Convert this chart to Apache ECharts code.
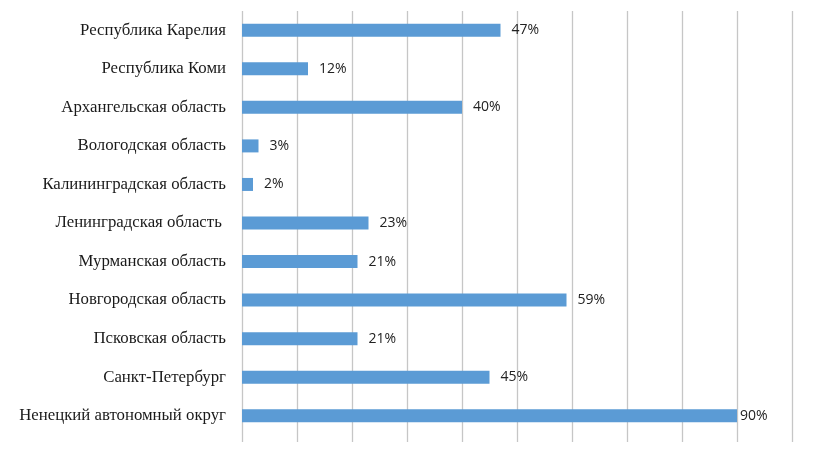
<!DOCTYPE html>
<html>
<head>
<meta charset="utf-8">
<script src="https://cdn.jsdelivr.net/npm/echarts@6/dist/echarts.min.js"></script>
<style>html,body{margin:0;padding:0;background:#fff}#c{width:818px;height:451px}</style>
</head>
<body>
<div id="c"></div>
<script>
const categories = ["Республика Карелия","Республика Коми","Архангельская область","Вологодская область","Калининградская область","Ленинградская область ","Мурманская область","Новгородская область","Псковская область","Санкт-Петербург","Ненецкий автономный округ"];
const values = [47,12,40,3,2,23,21,59,21,45,90];
const chart = echarts.init(document.getElementById('c'));
chart.setOption({
  animation:false,
  grid:{left:242,right:26,top:11,bottom:16},
  xAxis:{type:'value',min:0,max:100,interval:10,
    axisLine:{show:false},
    axisTick:{show:true,length:7,lineStyle:{color:'#C6C6C6',width:1.3}},
    axisLabel:{show:false},
    splitLine:{show:true,lineStyle:{color:'#C6C6C6',width:1.3}}},
  yAxis:{type:'category',data:categories,inverse:true,
    axisLine:{show:false},axisTick:{show:false},
    axisLabel:{margin:16,color:'#1a1a1a',fontFamily:'Liberation Serif',fontSize:16.8}},
  series:[{type:'bar',barWidth:13,
    data:values.map((v,i)=>({value:v,label:i===values.length-1?{distance:3}:{}})),
    itemStyle:{color:'#5B9BD5'},
    label:{show:true,position:'right',distance:11,formatter:'{c}%',color:'#222',fontFamily:'Open Sans',fontSize:14}}]
});
</script>
</body>
</html>
